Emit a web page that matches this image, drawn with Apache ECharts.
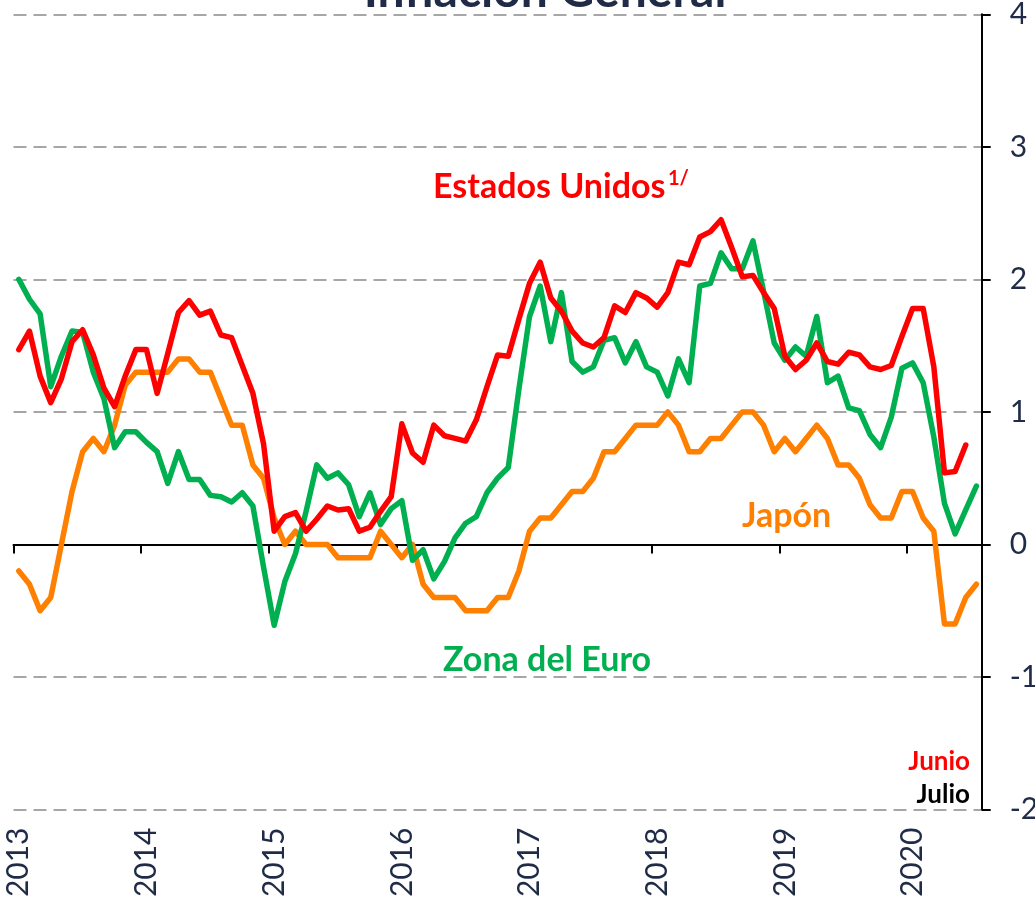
<!DOCTYPE html>
<html>
<head>
<meta charset="utf-8">
<title>Inflación General</title>
<script src="https://cdn.jsdelivr.net/npm/echarts@6/dist/echarts.min.js"></script>
<style>
    html, body { margin: 0; padding: 0; background: #fff; }
    #chart { width: 1035px; height: 900px; }
</style>
</head>
<body>
<div id="chart"></div>
<script>
// 年份 (每年12个月, 2020 只到7月)
const years = ['2013', '2014', '2015', '2016', '2017', '2018', '2019', '2020'];
const monthsPerYear = [12, 12, 12, 12, 12, 12, 12, 7];

// Zona del Euro, ene-2013 a jul-2020
const euro = [
    2.0, 1.85, 1.74, 1.19, 1.42, 1.61, 1.6, 1.3, 1.1, 0.73, 0.85, 0.85,
    0.77, 0.7, 0.46, 0.7, 0.49, 0.49, 0.37, 0.36, 0.32, 0.39, 0.29, -0.17,
    -0.61, -0.28, -0.07, 0.25, 0.6, 0.5, 0.54, 0.45, 0.21, 0.39, 0.15, 0.27,
    0.33, -0.12, -0.04, -0.26, -0.13, 0.05, 0.16, 0.21, 0.39, 0.5, 0.58, 1.17,
    1.72, 1.95, 1.53, 1.9, 1.38, 1.3, 1.34, 1.54, 1.56, 1.37, 1.53, 1.34,
    1.3, 1.12, 1.4, 1.22, 1.95, 1.97, 2.2, 2.08, 2.08, 2.29, 1.91, 1.52,
    1.39, 1.49, 1.42, 1.72, 1.22, 1.27, 1.03, 1.01, 0.83, 0.73, 0.96, 1.33,
    1.37, 1.22, 0.81, 0.31, 0.08, 0.26, 0.44
];

// Estados Unidos 1/, ene-2013 a jun-2020
const usa = [
    1.47, 1.61, 1.27, 1.07, 1.25, 1.53, 1.62, 1.43, 1.18, 1.04, 1.27, 1.47,
    1.47, 1.14, 1.44, 1.75, 1.84, 1.73, 1.76, 1.58, 1.56, 1.35, 1.14, 0.76,
    0.1, 0.21, 0.24, 0.1, 0.19, 0.29, 0.26, 0.27, 0.1, 0.13, 0.25, 0.36,
    0.91, 0.69, 0.62, 0.9, 0.82, 0.8, 0.78, 0.94, 1.19, 1.43, 1.42, 1.7,
    1.97, 2.13, 1.86, 1.76, 1.61, 1.52, 1.49, 1.56, 1.8, 1.75, 1.9, 1.86,
    1.79, 1.9, 2.13, 2.11, 2.32, 2.36, 2.45, 2.24, 2.02, 2.03, 1.9, 1.78,
    1.42, 1.32, 1.39, 1.52, 1.38, 1.36, 1.45, 1.43, 1.34, 1.32, 1.35, 1.57,
    1.78, 1.78, 1.34, 0.54, 0.55, 0.75, null
];

// Japón, ene-2013 a jul-2020
const japon = [
    -0.2, -0.3, -0.5, -0.4, 0.0, 0.4, 0.7, 0.8, 0.7, 0.9, 1.2, 1.3,
    1.3, 1.3, 1.3, 1.4, 1.4, 1.3, 1.3, 1.1, 0.9, 0.9, 0.6, 0.5,
    0.2, 0.0, 0.1, 0.0, 0.0, 0.0, -0.1, -0.1, -0.1, -0.1, 0.1, 0.0,
    -0.1, 0.0, -0.3, -0.4, -0.4, -0.4, -0.5, -0.5, -0.5, -0.4, -0.4, -0.2,
    0.1, 0.2, 0.2, 0.3, 0.4, 0.4, 0.5, 0.7, 0.7, 0.8, 0.9, 0.9,
    0.9, 1.0, 0.9, 0.7, 0.7, 0.8, 0.8, 0.9, 1.0, 1.0, 0.9, 0.7,
    0.8, 0.7, 0.8, 0.9, 0.8, 0.6, 0.6, 0.5, 0.3, 0.2, 0.2, 0.4,
    0.4, 0.2, 0.1, -0.6, -0.6, -0.4, -0.3
];

// 月份类目
const months = [];
years.forEach((y, i) => {
    for (let m = 1; m <= monthsPerYear[i]; m++) {
        months.push(y + '-' + (m < 10 ? '0' + m : m));
    }
});

const navy = '#1f2b47';
const font = 'Lato, "Open Sans", sans-serif';

let chart = echarts.init(document.getElementById('chart'));

// 线条样式
function lineSeries (name, data, color) {
    return {
        name: name,
        type: 'line',
        data: data,
        symbol: 'none',
        smooth: false,
        connectNulls: false,
        lineStyle: { width: 5.5, color: color, join: 'round', cap: 'round' },
        itemStyle: { color: color }
    };
}

// 文字标注
function label (text, x, y, size, color, align) {
    return {
        type: 'text',
        x: x,
        y: y,
        style: {
            text: text,
            fill: color,
            font: 'bold ' + size + 'px ' + font,
            align: align || 'left',
            verticalAlign: 'middle'
        }
    };
}

let options = {
    animation: false,
    backgroundColor: '#fff',
    grid: {
        left: 13.5,
        right: 53.3,
        top: 14.3,
        bottom: 90.5,
        containLabel: false,
        outerBoundsMode: 'none'
    },
    xAxis: [
        {
            type: 'category',
            data: months,
            boundaryGap: true,
            axisLine: { onZero: true, lineStyle: { color: '#000', width: 2 } },
            axisTick: { show: true, interval: 11, length: 9, lineStyle: { color: '#000', width: 2 } },
            axisLabel: { show: false },
            splitLine: { show: false }
        },
        {
            type: 'category',
            data: months,
            boundaryGap: true,
            position: 'bottom',
            axisLine: { show: false, onZero: false },
            axisTick: { show: false },
            axisLabel: {
                interval: 11,
                rotate: 90,
                margin: 18,
                color: navy,
                fontFamily: font,
                fontSize: 30,
                formatter: v => v.slice(0, 4)
            },
            splitLine: { show: false }
        }
    ],
    yAxis: {
        type: 'value',
        position: 'right',
        min: -2,
        max: 4,
        interval: 1,
        axisLine: { show: true, lineStyle: { color: '#000', width: 2 } },
        axisTick: { show: true, length: 9, lineStyle: { color: '#000', width: 2 } },
        axisLabel: { margin: 28, color: navy, fontFamily: font, fontSize: 30 },
        splitLine: {
            show: true,
            lineStyle: { color: '#a6a6a6', width: 2, type: [13, 7] }
        }
    },
    series: [
        lineSeries('Japón', japon, '#ff7f00'),
        lineSeries('Zona del Euro', euro, '#00b050'),
        lineSeries('Estados Unidos', usa, '#ff0000')
    ],
    graphic: [
        label('Inflación General', 545, -8, 48, navy, 'center'),
        label('Estados Unidos', 433, 187, 34, '#ff0000'),
        label('1/', 668, 179, 20, '#ff0000'),
        label('Japón', 742, 516, 34, '#ff7f00'),
        label('Zona del Euro', 443, 660, 34, '#00b050'),
        label('Junio', 970, 762, 26, '#ff0000', 'right'),
        label('Julio', 970, 795, 26, '#000', 'right')
    ]
};

chart.setOption(options);
</script>
</body>
</html>
